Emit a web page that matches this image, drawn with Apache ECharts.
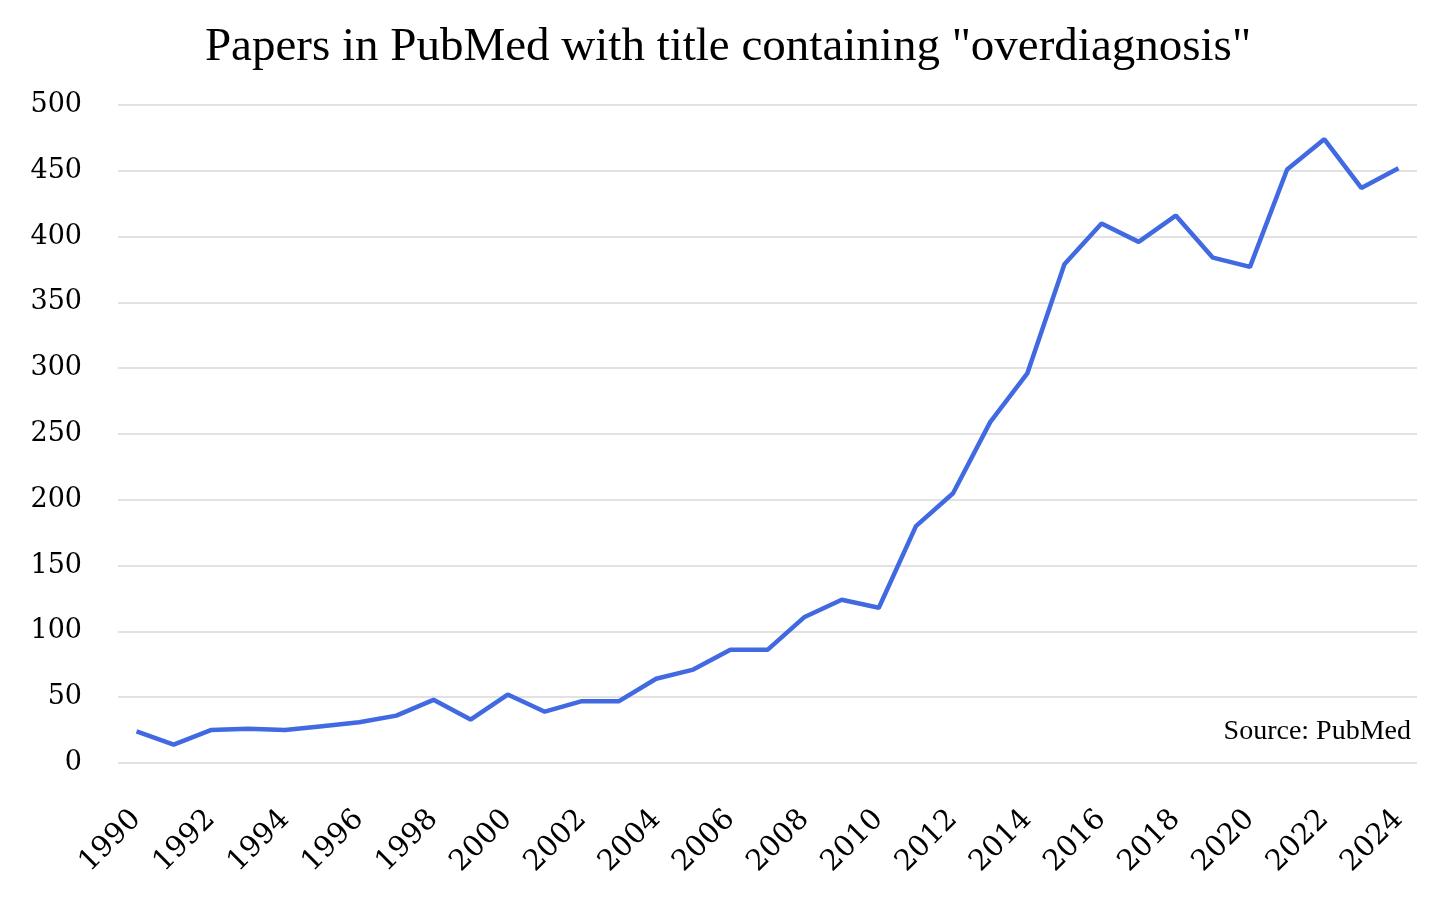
<!DOCTYPE html>
<html>
<head>
<meta charset="utf-8">
<script src="https://cdn.jsdelivr.net/npm/echarts@6/dist/echarts.min.js"></script>
<style>
html,body{margin:0;padding:0;background:#fff;}
#chart{width:1456px;height:900px;}
</style>
</head>
<body>
<div id="chart"></div>
<script>
const years = ["1990","1991","1992","1993","1994","1995","1996","1997","1998","1999","2000","2001","2002","2003","2004","2005","2006","2007","2008","2009","2010","2011","2012","2013","2014","2015","2016","2017","2018","2019","2020","2021","2022","2023","2024"];
const papers = [24,14,25,26,25,28,31,36,48,33,52,39,47,47,64,71,86,86,111,124,118,180,205,259,296,379,410,396,416,384,377,451,474,437,452];
const titleText = 'Papers in PubMed with title containing "overdiagnosis"';
const sourceText = 'Source: PubMed';

const chart = echarts.init(document.getElementById('chart'));
chart.setOption({
  backgroundColor: '#ffffff',
  animation: false,
  title: {
    text: titleText,
    left: 'center',
    top: 19,
    textStyle: { fontFamily: 'Liberation Serif', fontWeight: 'normal', fontSize: 47, color: '#000' }
  },
  graphic: [{
    type: 'text',
    right: 45,
    top: 718,
    style: { text: sourceText, fontFamily: 'Liberation Serif', fontSize: 28, fill: '#000' }
  }],
  grid: { left: 118, right: 39, top: 105, bottom: 137, containLabel: false },
  xAxis: {
    type: 'category',
    data: years,
    boundaryGap: true,
    axisLine: { show: false },
    axisTick: { show: false },
    axisLabel: {
      interval: 1,
      rotate: 45,
      margin: 52,
      fontFamily: 'DejaVu Serif',
      fontSize: 29,
      color: '#000'
    }
  },
  yAxis: {
    type: 'value',
    min: 0,
    max: 500,
    interval: 50,
    axisLine: { show: false },
    axisTick: { show: false },
    axisLabel: { margin: 36, fontFamily: 'DejaVu Serif', fontSize: 27, color: '#000' },
    splitLine: { lineStyle: { color: '#d9d9d9', width: 1.5 } }
  },
  series: [{
    type: 'line',
    data: papers,
    symbol: 'none',
    lineStyle: { color: '#4169e1', width: 4.5 },
    itemStyle: { color: '#4169e1' }
  }]
});
</script>
</body>
</html>
